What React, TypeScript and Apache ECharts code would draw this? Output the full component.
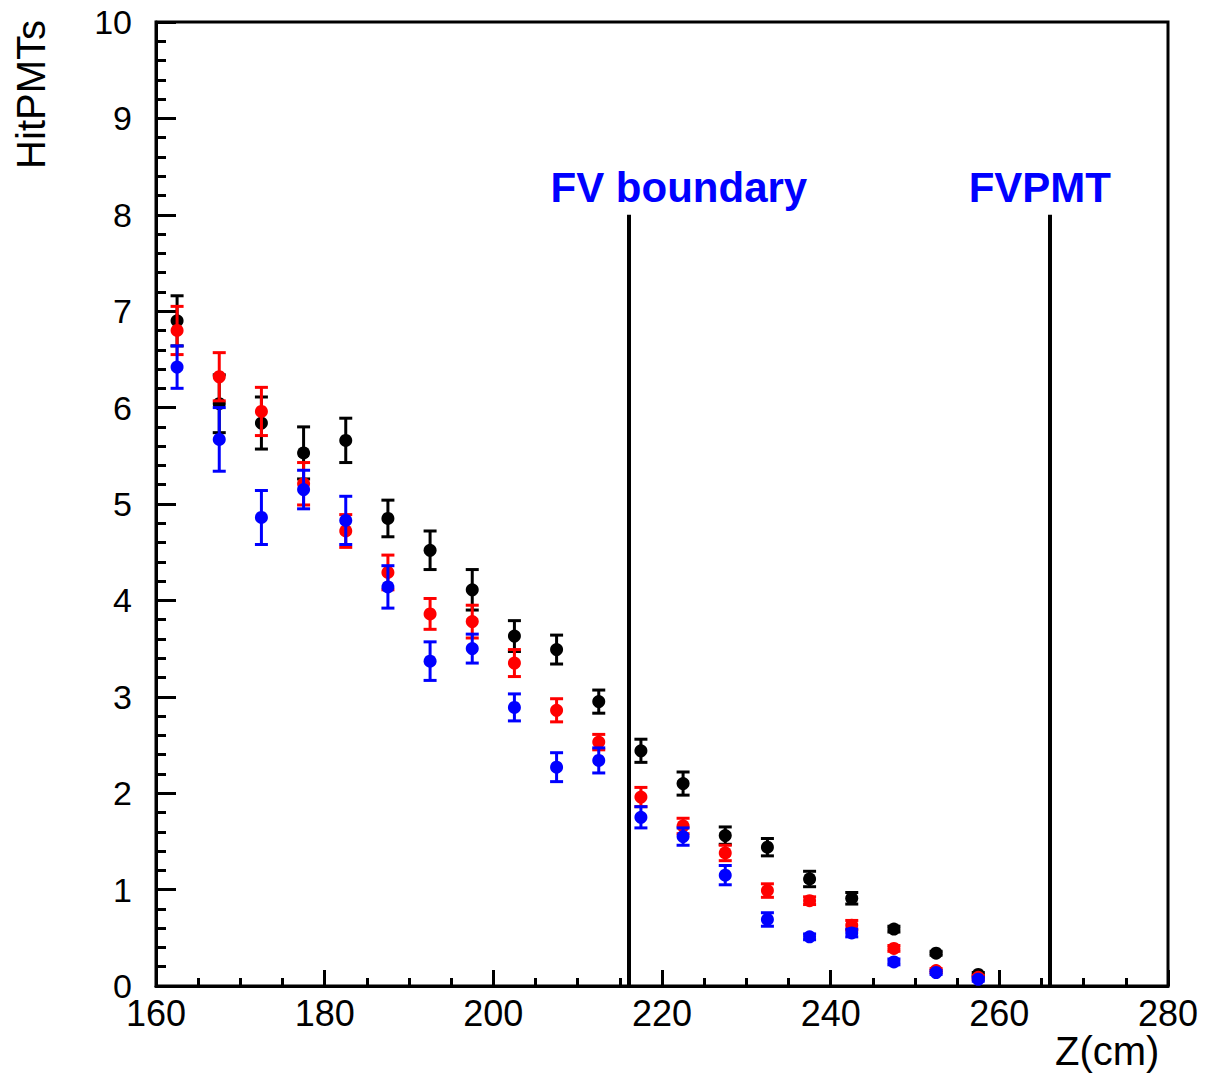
import React, { useEffect, useRef } from "react";
import * as echarts from "echarts";

const zBins = [162.5, 167.5, 172.5, 177.5, 182.5, 187.5, 192.5, 197.5, 202.5, 207.5, 212.5, 217.5, 222.5, 227.5, 232.5, 237.5, 242.5, 247.5, 252.5, 257.5];
const blackVals = [6.90, 6.04, 5.84, 5.53, 5.66, 4.85, 4.52, 4.11, 3.63, 3.49, 2.95, 2.44, 2.10, 1.56, 1.44, 1.11, 0.91, 0.59, 0.34, 0.12];
const blackErrs = [0.26, 0.30, 0.27, 0.27, 0.23, 0.19, 0.20, 0.21, 0.16, 0.15, 0.12, 0.12, 0.12, 0.09, 0.09, 0.08, 0.06, 0.03, 0.02, 0.02];
const redVals = [6.80, 6.32, 5.96, 5.21, 4.72, 4.29, 3.86, 3.78, 3.35, 2.86, 2.53, 1.96, 1.66, 1.38, 0.99, 0.885, 0.63, 0.39, 0.16, 0.09];
const redErrs = [0.25, 0.25, 0.25, 0.22, 0.17, 0.18, 0.16, 0.17, 0.14, 0.12, 0.08, 0.10, 0.08, 0.08, 0.07, 0.04, 0.05, 0.03, 0.02, 0.02];
const blueVals = [6.42, 5.67, 4.86, 5.15, 4.83, 4.14, 3.37, 3.50, 2.89, 2.27, 2.34, 1.75, 1.55, 1.15, 0.69, 0.51, 0.55, 0.25, 0.14, 0.07];
const blueErrs = [0.22, 0.33, 0.28, 0.20, 0.25, 0.22, 0.20, 0.15, 0.14, 0.15, 0.13, 0.11, 0.09, 0.10, 0.07, 0.03, 0.04, 0.03, 0.02, 0.02];

const boundaryZ = [216, 266];
const boundaryTop = 8;
const annotationTexts = ["FV boundary", "FVPMT"];
const annotationZ = [222.0, 264.8];
const annotationY = 8.28;

const FONT = "'Liberation Sans', Arial, Helvetica, sans-serif";

function errSeries(name: string, vals: number[], errs: number[], color: string) {
  return {
    type: "custom",
    name,
    data: zBins.map((z, i) => [z, vals[i], errs[i]]),
    encode: { x: 0, y: 1 },
    renderItem: (params: any, api: any) => {
      const x = api.value(0);
      const y = api.value(1);
      const e = api.value(2);
      const c = api.coord([x, y]);
      const t = api.coord([x, y + e]);
      const b = api.coord([x, y - e]);
      const hw = 6.5;
      const st = { stroke: color, lineWidth: 3 };
      return {
        type: "group",
        children: [
          { type: "line", shape: { x1: t[0], y1: t[1], x2: b[0], y2: b[1] }, style: st },
          { type: "line", shape: { x1: t[0] - hw, y1: t[1], x2: t[0] + hw, y2: t[1] }, style: st },
          { type: "line", shape: { x1: b[0] - hw, y1: b[1], x2: b[0] + hw, y2: b[1] }, style: st },
          { type: "circle", shape: { cx: c[0], cy: c[1], r: 6.5 }, style: { fill: color } },
        ],
      };
    },
  };
}

export default function App() {
  const ref = useRef<HTMLDivElement>(null);
  useEffect(() => {
    document.body.style.margin = "0";
    const chart = echarts.init(ref.current!, null, { renderer: "svg" });
    chart.setOption({
      animation: false,
      backgroundColor: "#ffffff",
      grid: {
        left: 156,
        right: 40,
        top: 22,
        bottom: 91,
        containLabel: false,
        outerBoundsMode: "none",
        show: true,
        borderColor: "#000",
        borderWidth: 3,
        backgroundColor: "transparent",
      },
      xAxis: {
        type: "value",
        min: 160,
        max: 280,
        interval: 20,
        name: "Z(cm)",
        nameLocation: "end",
        nameGap: -113,
        nameTextStyle: { fontFamily: FONT, fontSize: 40, color: "#000", align: "left", verticalAlign: "top", padding: [45, 0, 0, 0] },
        axisLine: { lineStyle: { color: "#000", width: 3 } },
        axisTick: { inside: true, length: 16, lineStyle: { color: "#000", width: 3 } },
        minorTick: { show: true, splitNumber: 4, length: 8, lineStyle: { color: "#000", width: 3 } },
        axisLabel: { fontFamily: FONT, fontSize: 36, color: "#000", margin: 9 },
        splitLine: { show: false },
      },
      yAxis: {
        type: "value",
        min: 0,
        max: 10,
        interval: 1,
        axisLine: { lineStyle: { color: "#000", width: 3 } },
        axisTick: { inside: true, length: 20, lineStyle: { color: "#000", width: 3 } },
        minorTick: { show: true, splitNumber: 5, length: 10, lineStyle: { color: "#000", width: 3 } },
        axisLabel: { fontFamily: FONT, fontSize: 34, color: "#000", margin: 24 },
        splitLine: { show: false },
      },
      graphic: [
        {
          type: "text",
          x: 31,
          y: 20,
          rotation: Math.PI / 2,
          style: { text: "HitPMTs", fontFamily: FONT, fontSize: 40, fill: "#000", align: "right", verticalAlign: "middle" },
        },
      ],
      series: [
        {
          type: "scatter",
          data: [],
          markLine: {
            silent: true,
            symbol: "none",
            label: { show: false },
            lineStyle: { color: "#000", width: 4, type: "solid" },
            data: boundaryZ.map((z) => [{ coord: [z, 0] }, { coord: [z, boundaryTop] }]),
          },
          markPoint: {
            silent: true,
            symbol: "circle",
            symbolSize: 1,
            itemStyle: { color: "transparent" },
            label: { show: true, position: "inside", color: "#0000ff", fontWeight: "bold", fontSize: 42, fontFamily: FONT },
            data: annotationTexts.map((t, i) => ({ coord: [annotationZ[i], annotationY], value: t, label: { formatter: t } })),
          },
        },
        errSeries("black", blackVals, blackErrs, "#000000"),
        errSeries("red", redVals, redErrs, "#ff0000"),
        errSeries("blue", blueVals, blueErrs, "#0000ff"),
      ],
    });
    return () => chart.dispose();
  }, []);
  return <div ref={ref} style={{ width: 1208, height: 1077 }} />;
}
